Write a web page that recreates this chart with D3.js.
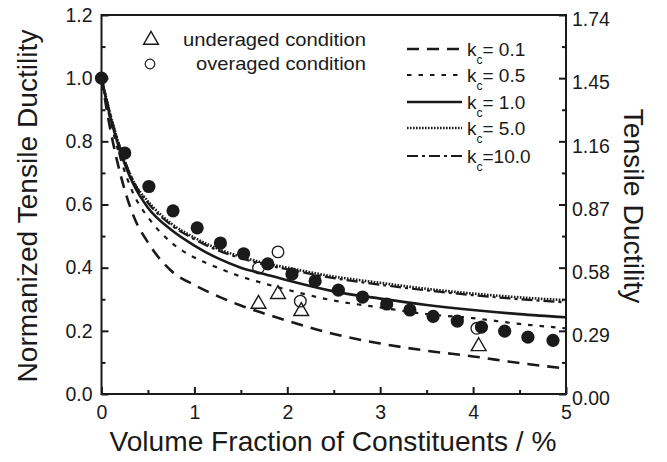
<!DOCTYPE html>
<html><head><meta charset="utf-8">
<script src="https://cdn.jsdelivr.net/npm/d3@7"></script>
<style>body{margin:0;background:#fff;} svg{display:block;}</style>
</head><body>
<svg id="c" width="667" height="462"></svg>
<script>
// ---- data ----
const fullX = [0, 0.25, 0.51, 0.77, 1.03, 1.28, 1.53, 1.79, 2.05, 2.30, 2.55, 2.81, 3.07, 3.32, 3.57, 3.83, 4.09, 4.34, 4.59, 4.86];
const fullY = [1.0, 0.763, 0.657, 0.58, 0.526, 0.478, 0.444, 0.412, 0.38, 0.358, 0.329, 0.307, 0.285, 0.266, 0.246, 0.231, 0.212, 0.199, 0.18, 0.17];
const overX = [1.69, 1.90, 2.14, 4.04];
const overY = [0.399, 0.45, 0.294, 0.208];
const underX = [1.69, 1.90, 2.15, 4.06];
const underY = [0.285, 0.316, 0.262, 0.151];

const curveX = [0, 0.1, 0.2, 0.35, 0.5, 0.75, 1.0, 1.25, 1.5, 1.75, 2.0, 2.5, 3.0, 3.5, 4.0, 4.5, 5.0];
const kc01  = [1, 0.83, 0.70, 0.56, 0.48, 0.39, 0.345, 0.31, 0.28, 0.255, 0.232, 0.19, 0.16, 0.137, 0.119, 0.098, 0.081];
const kc05  = [1, 0.86, 0.75, 0.63, 0.56, 0.48, 0.432, 0.40, 0.372, 0.35, 0.33, 0.296, 0.274, 0.253, 0.24, 0.222, 0.208];
const kc10  = [1, 0.87, 0.77, 0.66, 0.59, 0.52, 0.47, 0.43, 0.40, 0.38, 0.36, 0.325, 0.302, 0.282, 0.266, 0.253, 0.243];
const kc50  = [1, 0.88, 0.78, 0.67, 0.61, 0.54, 0.495, 0.46, 0.435, 0.415, 0.40, 0.372, 0.352, 0.333, 0.318, 0.306, 0.297];
const kc100 = [1, 0.88, 0.78, 0.67, 0.605, 0.535, 0.49, 0.455, 0.43, 0.41, 0.395, 0.367, 0.346, 0.328, 0.313, 0.30, 0.29];

const seriesNames = ["= 0.1", "= 0.5", "= 1.0", "= 5.0", "=10.0"];
const seriesValues = [kc01, kc05, kc10, kc50, kc100];
const dashes = ["12,8", "4.5,7", null, "1.6,1.4", "11,4,3,4"];
const widths = [2.6, 2.2, 2.6, 2.6, 2.2];

const xTicks = [0, 1, 2, 3, 4, 5];
const yTicks = [0, 0.2, 0.4, 0.6, 0.8, 1.0, 1.2];
const y2Ticks = [0, 0.29, 0.58, 0.87, 1.16, 1.45, 1.74];

// ---- layout ----
const svg = d3.select("#c");
const L = 101.5, R = 566, T = 15, B = 394;
const x = d3.scaleLinear().domain([0, 5]).range([L, R]);
const y = d3.scaleLinear().domain([0, 1.2]).range([B, T]);
const y2 = d3.scaleLinear().domain([0, 1.74]).range([B, T]);
const font = "'Liberation Sans', Arial, sans-serif";
const ink = "#1a1a1a";

// curves
const line = d3.line().x(d => x(d[0])).y(d => y(d[1])).curve(d3.curveMonotoneX);
seriesValues.forEach((vals, i) => {
  svg.append("path")
    .attr("d", line(curveX.map((cx, j) => [cx, vals[j]])))
    .attr("fill", "none").attr("stroke", ink)
    .attr("stroke-width", widths[i])
    .attr("stroke-dasharray", dashes[i]);
});

// markers
svg.selectAll(".full").data(fullX.map((v, i) => [v, fullY[i]])).join("circle")
  .attr("cx", d => x(d[0])).attr("cy", d => y(d[1])).attr("r", 6.6).attr("fill", ink);
svg.selectAll(".over").data(overX.map((v, i) => [v, overY[i]])).join("circle")
  .attr("cx", d => x(d[0])).attr("cy", d => y(d[1])).attr("r", 5.8)
  .attr("fill", "none").attr("stroke", ink).attr("stroke-width", 1.3);
const tri = d3.symbol().type(d3.symbolTriangle).size(95);
svg.selectAll(".under").data(underX.map((v, i) => [v, underY[i]])).join("path")
  .attr("d", tri).attr("transform", d => `translate(${x(d[0])},${y(d[1])})`)
  .attr("fill", "none").attr("stroke", ink).attr("stroke-width", 1.4);

// frame
svg.append("rect").attr("x", L).attr("y", T).attr("width", R - L).attr("height", B - T)
  .attr("fill", "none").attr("stroke", ink).attr("stroke-width", 2);

// axes
const tickStyle = g => {
  g.select(".domain").remove();
  g.selectAll(".tick line").attr("stroke", ink).attr("stroke-width", 2);
  g.selectAll(".tick text").attr("fill", ink).style("font-family", font).style("font-size", "19.5px");
};
svg.append("g").attr("transform", `translate(0,${B})`)
  .call(d3.axisBottom(x).tickValues(xTicks).tickFormat(d3.format("d")).tickSizeInner(-7).tickPadding(11))
  .call(tickStyle);
svg.append("g").attr("transform", `translate(0,${B})`)
  .call(d3.axisBottom(x).tickValues(d3.range(0.5, 5, 1)).tickFormat("").tickSizeInner(-4))
  .call(tickStyle);
svg.append("g").attr("transform", `translate(${L},0)`)
  .call(d3.axisLeft(y).tickValues(yTicks).tickFormat(d3.format(".1f")).tickSizeInner(-7).tickPadding(9))
  .call(tickStyle);
svg.append("g").attr("transform", `translate(${L},0)`)
  .call(d3.axisLeft(y).tickValues(d3.range(0.1, 1.2, 0.2)).tickFormat("").tickSizeInner(-4))
  .call(tickStyle);
const r2 = svg.append("g").attr("transform", `translate(${R},0)`)
  .call(d3.axisRight(y2).tickValues(y2Ticks).tickFormat(d3.format(".2f")).tickSizeInner(-7).tickPadding(6))
  .call(tickStyle);
r2.selectAll(".tick text").attr("dy", "0.55em");
svg.append("g").attr("transform", `translate(${R},0)`)
  .call(d3.axisRight(y2).tickValues(d3.range(0.145, 1.74, 0.29)).tickFormat("").tickSizeInner(-4))
  .call(tickStyle);

// axis titles
svg.append("text").attr("x", 333).attr("y", 451).attr("text-anchor", "middle")
  .style("font-family", font).style("font-size", "28px").attr("fill", ink)
  .attr("textLength", 447).attr("lengthAdjust", "spacingAndGlyphs")
  .text("Volume Fraction of Constituents / %");
svg.append("text").attr("transform", `translate(37,206) rotate(-90)`).attr("text-anchor", "middle")
  .style("font-family", font).style("font-size", "28px").attr("fill", ink)
  .attr("textLength", 353).attr("lengthAdjust", "spacingAndGlyphs")
  .text("Normanized Tensile Ductility");
svg.append("text").attr("transform", `translate(624,206) rotate(90)`).attr("text-anchor", "middle")
  .style("font-family", font).style("font-size", "28px").attr("fill", ink)
  .attr("textLength", 195).attr("lengthAdjust", "spacingAndGlyphs")
  .text("Tensile Ductility");

// marker legend
svg.append("path").attr("d", tri).attr("transform", "translate(151,40)")
  .attr("fill", "none").attr("stroke", ink).attr("stroke-width", 1.4);
svg.append("circle").attr("cx", 150).attr("cy", 64).attr("r", 4.8)
  .attr("fill", "none").attr("stroke", ink).attr("stroke-width", 1.2);
svg.append("text").attr("x", 183).attr("y", 46).style("font-family", font).style("font-size", "18.5px")
  .attr("fill", ink).attr("textLength", 183).attr("lengthAdjust", "spacingAndGlyphs").text("underaged condition");
svg.append("text").attr("x", 196).attr("y", 70).style("font-family", font).style("font-size", "18.5px")
  .attr("fill", ink).attr("textLength", 170).attr("lengthAdjust", "spacingAndGlyphs").text("overaged condition");

// line legend
const legY = [49, 75, 102, 128, 156];
seriesNames.forEach((name, i) => {
  svg.append("line").attr("x1", 407).attr("x2", 462).attr("y1", legY[i]).attr("y2", legY[i])
    .attr("stroke", ink).attr("stroke-width", widths[i]).attr("stroke-dasharray", dashes[i]);
  const t = svg.append("text").attr("x", 467).attr("y", legY[i] + 7)
    .style("font-family", font).style("font-size", "19px").attr("fill", ink);
  t.append("tspan").text("k");
  t.append("tspan").attr("dy", 8).style("font-size", "12px").text("c");
  t.append("tspan").attr("dy", -8).text(name);
});
</script>
</body></html>
